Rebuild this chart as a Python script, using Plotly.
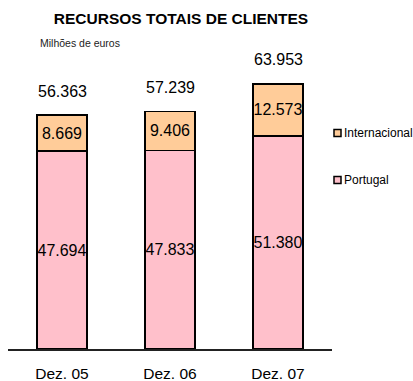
import plotly.graph_objects as go

# Client resources, millions of euros
periods = ["Dez. 05", "Dez. 06", "Dez. 07"]
portugal = [47.694, 47.833, 51.380]
internacional = [8.669, 9.406, 12.573]
totals = [56.363, 57.239, 63.953]

portugal_labels = ["47.694", "47.833", "51.380"]
internacional_labels = ["8.669", "9.406", "12.573"]
total_labels = ["56.363", "57.239", "63.953"]

PINK = "#FFC0CB"
PEACH = "#FFCC99"
FONT = "Liberation Sans, Arial, sans-serif"

W, H = 413, 381
L, R, T, B = 8, 81, 50, 32
plot_w = W - L - R
plot_h = H - T - B


def px_x(px):
    return (px - L) / plot_w


def px_y(py):
    return (H - B - py) / plot_h


fig = go.Figure()

fig.add_trace(go.Bar(
    x=periods, y=portugal, name="Portugal",
    marker=dict(color=PINK, line=dict(color="black", width=1.8)),
    text=portugal_labels, textposition="inside", insidetextanchor="middle",
    textangle=0, constraintext="none",
    textfont=dict(size=16, color="black", family=FONT),
    showlegend=False,
))
fig.add_trace(go.Bar(
    x=periods, y=internacional, name="Internacional",
    marker=dict(color=PEACH, line=dict(color="black", width=1.8)),
    text=internacional_labels, textposition="inside", insidetextanchor="middle",
    textangle=0, constraintext="none",
    textfont=dict(size=16, color="black", family=FONT),
    showlegend=False,
))

annotations = []
for p, t, lab in zip(periods, totals, total_labels):
    annotations.append(dict(
        x=p, y=t, xref="x", yref="y", text=lab, showarrow=False,
        yshift=24, yanchor="middle",
        font=dict(size=16, color="black", family=FONT),
    ))

# Unit note
annotations.append(dict(
    x=px_x(38), y=px_y(43.5), xref="paper", yref="paper", text="Milhões de euros",
    showarrow=False, xanchor="left", yanchor="middle",
    font=dict(size=10.5, color="#222222", family=FONT),
))

# Legend entries beside the plot
shapes = []
legend_items = [("Internacional", PEACH, 133), ("Portugal", PINK, 180)]
for name, color, cy in legend_items:
    annotations.append(dict(
        x=px_x(342), y=px_y(cy), xref="paper", yref="paper", text=name,
        showarrow=False, xanchor="left", yanchor="middle",
        font=dict(size=12, color="black", family=FONT),
    ))
    shapes.append(dict(
        type="rect", xref="paper", yref="paper",
        x0=px_x(334), x1=px_x(341), y0=px_y(cy + 3.5), y1=px_y(cy - 3.5),
        fillcolor=color, line=dict(color="black", width=1.5),
    ))

fig.update_layout(
    width=W, height=H,
    margin=dict(l=L, r=R, t=T, b=B, pad=0, autoexpand=False),
    barmode="stack", bargap=0.53,
    paper_bgcolor="white", plot_bgcolor="white",
    font=dict(family=FONT, color="black"),
    title=dict(
        text="<b>RECURSOS TOTAIS DE CLIENTES</b>",
        xref="container", yref="container",
        x=181 / W, y=1 - 19 / H, xanchor="center", yanchor="middle",
        font=dict(size=15.5, color="black", family=FONT),
        automargin=False,
    ),
    annotations=annotations, shapes=shapes,
    showlegend=False,
    xaxis=dict(
        showline=True, linecolor="#222222", linewidth=1.6,
        showgrid=False, zeroline=False, ticks="",
        ticklabelstandoff=10, automargin=False,
        tickfont=dict(size=15.5, color="black", family=FONT),
    ),
    yaxis=dict(
        range=[0, plot_h / 4.15], visible=False, automargin=False,
    ),
)

fig.write_html("out.html")
